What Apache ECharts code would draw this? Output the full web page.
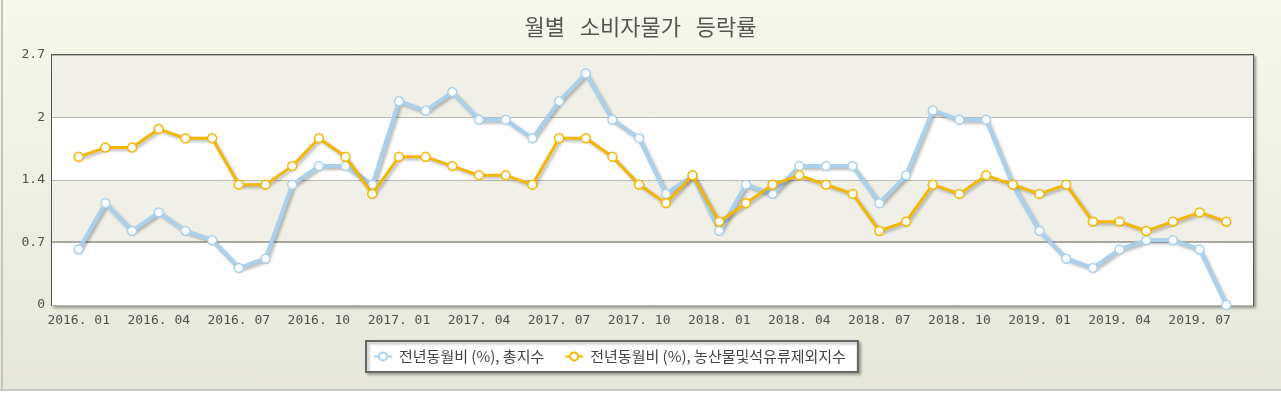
<!DOCTYPE html>
<html>
<head>
<meta charset="utf-8">
<script src="https://cdn.jsdelivr.net/npm/echarts@6/dist/echarts.min.js"></script>
<style>
  html, body { margin: 0; padding: 0; background: #fff; }
  .wrap {
    position: relative;
    width: 1281px;
    height: 397px;
    background: linear-gradient(to bottom, #f7f8ec 0, #e6e7da 389px, #c9c9c4 389px, #c9c9c4 391px, #fff 391px);
  }
  .left-line {
    position: absolute; left: 1px; top: 0; width: 2px; height: 391px;
    background: #c4c4bc;
  }
  #cpi_chart { position: absolute; left: 0; top: 0; width: 1281px; height: 397px; }
</style>
</head>
<body>
<div class="wrap">
  <div id="cpi_chart"></div>
  <div class="left-line"></div>
</div>
<script>
// 월별 데이터
const months = [
  '2016. 01', '2016. 02', '2016. 03', '2016. 04', '2016. 05', '2016. 06',
  '2016. 07', '2016. 08', '2016. 09', '2016. 10', '2016. 11', '2016. 12',
  '2017. 01', '2017. 02', '2017. 03', '2017. 04', '2017. 05', '2017. 06',
  '2017. 07', '2017. 08', '2017. 09', '2017. 10', '2017. 11', '2017. 12',
  '2018. 01', '2018. 02', '2018. 03', '2018. 04', '2018. 05', '2018. 06',
  '2018. 07', '2018. 08', '2018. 09', '2018. 10', '2018. 11', '2018. 12',
  '2019. 01', '2019. 02', '2019. 03', '2019. 04', '2019. 05', '2019. 06',
  '2019. 07', '2019. 08'
];
// 전년동월비 (%), 총지수
const totalIndex = [
  0.6, 1.1, 0.8, 1.0, 0.8, 0.7, 0.4, 0.5, 1.3, 1.5, 1.5, 1.3,
  2.2, 2.1, 2.3, 2.0, 2.0, 1.8, 2.2, 2.5, 2.0, 1.8, 1.2, 1.4,
  0.8, 1.3, 1.2, 1.5, 1.5, 1.5, 1.1, 1.4, 2.1, 2.0, 2.0, 1.3,
  0.8, 0.5, 0.4, 0.6, 0.7, 0.7, 0.6, 0.0
];
// 전년동월비 (%), 농산물및석유류제외지수
const coreIndex = [
  1.6, 1.7, 1.7, 1.9, 1.8, 1.8, 1.3, 1.3, 1.5, 1.8, 1.6, 1.2,
  1.6, 1.6, 1.5, 1.4, 1.4, 1.3, 1.8, 1.8, 1.6, 1.3, 1.1, 1.4,
  0.9, 1.1, 1.3, 1.4, 1.3, 1.2, 0.8, 0.9, 1.3, 1.2, 1.4, 1.3,
  1.2, 1.3, 0.9, 0.9, 0.8, 0.9, 1.0, 0.9
];
const yTickLabels = ['0', '0.7', '1.4', '2', '2.7'];
const yStep = 0.675;
const yMax = 2.7;

const seriesNames = ['전년동월비 (%), 총지수', '전년동월비 (%), 농산물및석유류제외지수'];

// 양쪽 끝에 빈 칸을 두어 점이 테두리에서 떨어지도록
const cats = [''].concat(months, ['']);
const pad = arr => [null].concat(arr, [null]);

const chart = echarts.init(document.getElementById('cpi_chart'));
const axisFont = 'DejaVu Sans Mono';
const krFont = '"Noto Sans CJK KR", "Noto Sans", sans-serif';

const lineShadow = {
  shadowColor: 'rgba(0, 0, 0, 0.28)',
  shadowBlur: 3,
  shadowOffsetX: 2,
  shadowOffsetY: 2
};

const option = {
  backgroundColor: 'transparent',
  animation: false,
  title: {
    text: '월별   소비자물가   등락률',
    left: 'center',
    top: 11,
    textStyle: {
      fontFamily: krFont,
      fontSize: 22,
      fontWeight: 'normal',
      color: '#555'
    }
  },
  legend: {
    data: seriesNames,
    left: 366,
    top: 341,
    padding: [8, 12, 8, 7],
    itemGap: 20,
    itemWidth: 18,
    itemHeight: 10,
    backgroundColor: '#fff',
    borderColor: '#666',
    borderWidth: 2,
    shadowColor: 'rgba(0, 0, 0, 0.3)',
    shadowBlur: 3,
    shadowOffsetX: 2,
    shadowOffsetY: 2,
    textStyle: {
      fontFamily: krFont,
      fontSize: 15,
      color: '#444',
      padding: [0, 0, 0, 2]
    }
  },
  grid: {
    show: true,
    left: 52,
    right: 28,
    top: 55,
    bottom: 92,
    backgroundColor: '#fff',
    borderColor: '#555',
    borderWidth: 2,
    shadowColor: 'rgba(0, 0, 0, 0.3)',
    shadowBlur: 3,
    shadowOffsetX: 2,
    shadowOffsetY: 2
  },
  xAxis: {
    type: 'category',
    data: cats,
    boundaryGap: false,
    axisLine: { show: false },
    axisTick: { show: false },
    splitLine: { show: false },
    axisLabel: {
      interval: function (index, value) {
        return value !== '' && (index - 1) % 3 === 0;
      },
      margin: 9,
      fontFamily: axisFont,
      fontSize: 13,
      color: '#505050'
    }
  },
  yAxis: {
    type: 'value',
    min: 0,
    max: yMax,
    interval: yStep,
    axisLine: { show: false },
    axisTick: { show: false },
    axisLabel: {
      margin: 7,
      fontFamily: axisFont,
      fontSize: 13,
      color: '#505050',
      formatter: function (v) {
        return yTickLabels[Math.round(v / yStep)];
      }
    },
    splitLine: {
      show: true,
      lineStyle: { color: '#b9b9b0', width: 1 }
    },
    splitArea: {
      show: true,
      areaStyle: { color: ['#ffffff', '#f0f0e8'] }
    }
  },
  series: [
    {
      name: seriesNames[0],
      type: 'line',
      data: pad(totalIndex),
      symbol: 'circle',
      symbolSize: 9,
      showAllSymbol: true,
      lineStyle: Object.assign({ color: '#aad0ec', width: 4 }, lineShadow),
      itemStyle: { color: '#fff', borderColor: '#aad0ec', borderWidth: 1.5 },
      markLine: {
        silent: true,
        symbol: 'none',
        label: { show: false },
        lineStyle: { color: '#a9a99e', width: 2, type: 'solid' },
        data: [{ yAxis: yStep }],
        z: 1
      },
      z: 3
    },
    {
      name: seriesNames[1],
      type: 'line',
      data: pad(coreIndex),
      symbol: 'circle',
      symbolSize: 9,
      showAllSymbol: true,
      lineStyle: Object.assign({ color: '#f2b705', width: 3 }, lineShadow),
      itemStyle: { color: '#fff', borderColor: '#f2b705', borderWidth: 1.5 },
      z: 4
    }
  ]
};

chart.setOption(option);
window.addEventListener('resize', () => {
  chart.resize();
});
</script>
</body>
</html>
